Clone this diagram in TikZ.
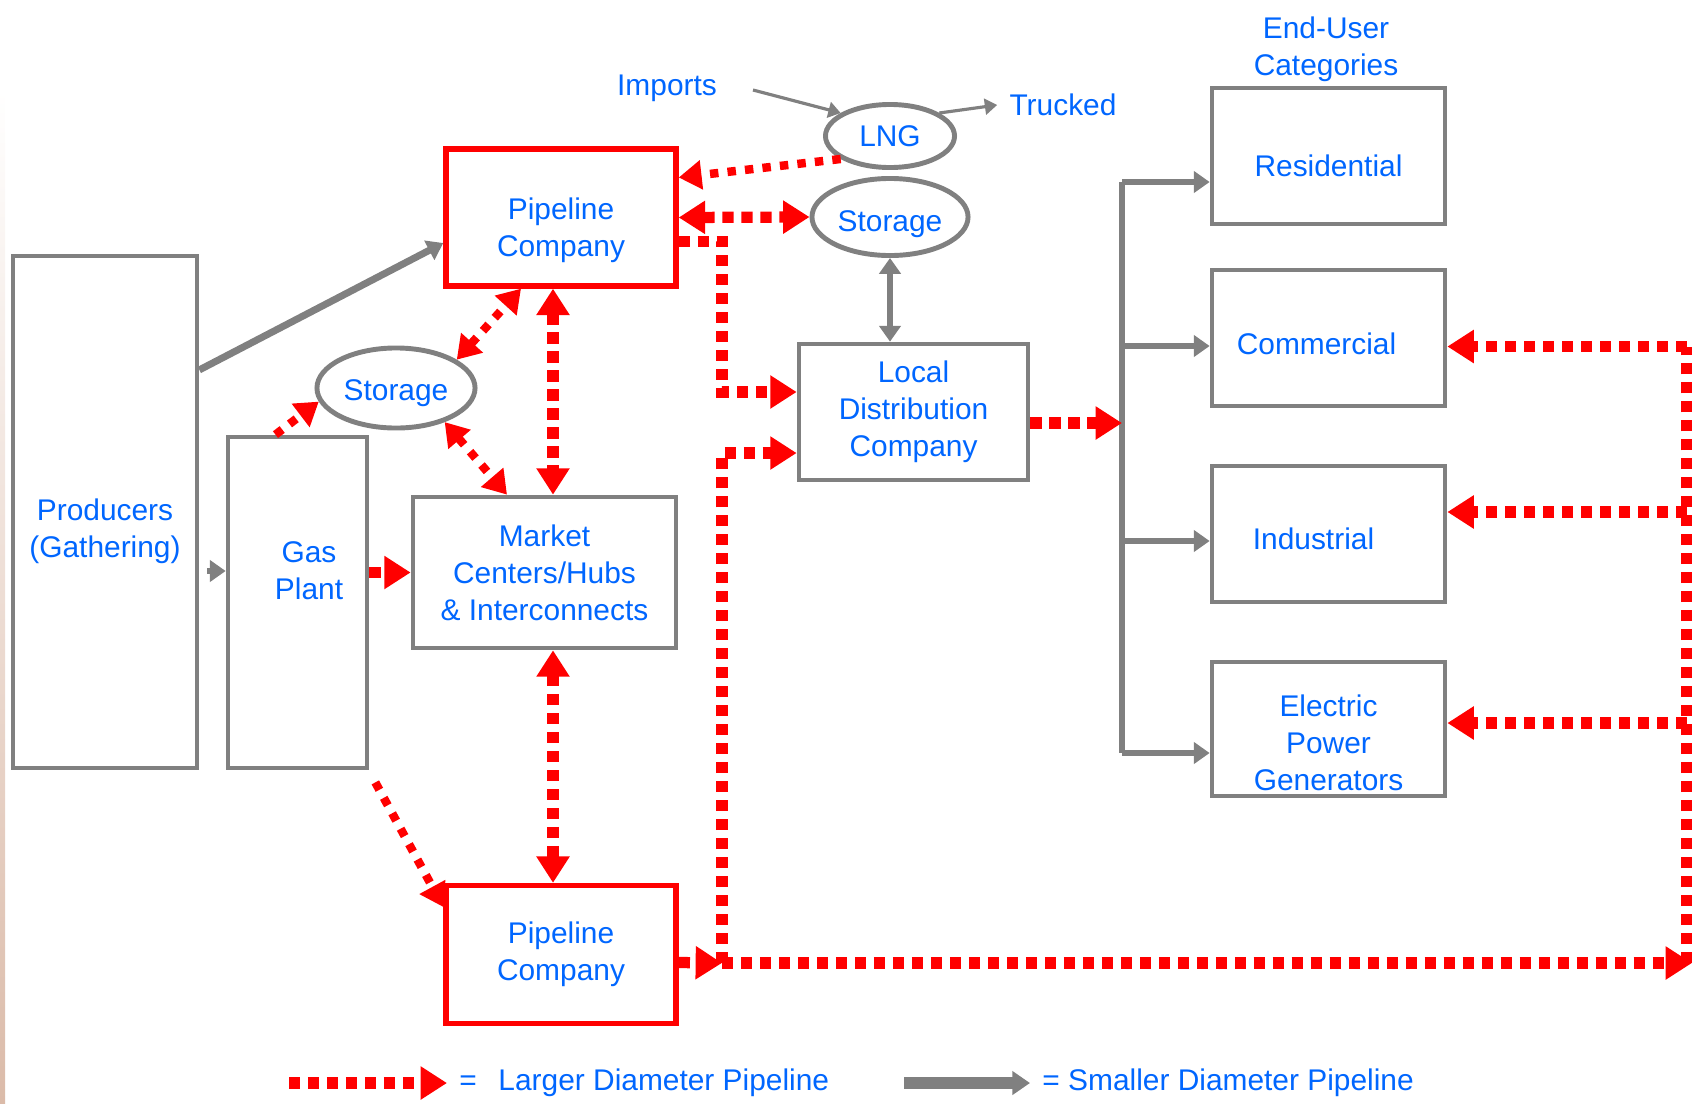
\documentclass[tikz,border=0pt]{standalone}
\usepackage{fontspec}
\setmainfont{Liberation Sans}
\usetikzlibrary{arrows.meta,shapes.geometric}
\definecolor{txtblue}{RGB}{0,102,255}
\definecolor{pipegray}{RGB}{128,128,128}
\definecolor{pipered}{RGB}{255,0,0}
\definecolor{edgetan}{RGB}{219,187,169}

\begin{document}
\begin{tikzpicture}[x=0.01cm,y=-0.01cm,
  every node/.style={text=txtblue,font=\fontsize{8.5}{10.5}\selectfont,align=center},
  box/.style={draw=pipegray,line width=1.3pt,inner sep=0pt},
  redbox/.style={box,draw=pipered,line width=1.5pt},
  tank/.style={ellipse,draw=pipegray,line width=1.4pt,inner sep=0pt},
  bigpipe/.style={pipered,line width=3.2pt,dash pattern=on 3.2pt off 2.2pt,>={Triangle[length=7.5pt,width=9pt]}},
  dotpipe/.style={pipered,line width=2.4pt,dash pattern=on 2.4pt off 2.6pt,>={Triangle[length=6.5pt,width=8pt]}},
  smallpipe/.style={pipegray,line width=1.6pt,>={Triangle[length=4.5pt,width=6pt]}},
  thinpipe/.style={pipegray,line width=0.9pt,>={Triangle[length=3.5pt,width=4.5pt]}}]
\useasboundingbox (0,0) rectangle (1692,1103);
\shade[top color=white,bottom color=edgetan] (0,90) rectangle (5,1103);

\node[box,minimum width=18.4mm,minimum height=51.2mm,
  label={[yshift=-1.9mm]center:{Producers\\(Gathering)}}] (prod) at (105,512) {};
\node[box,minimum width=13.9mm,minimum height=33.1mm] (gas) at (297.5,602.5) {};
\node (gastext) at (309,571) {Gas\\Plant};
\node[redbox,minimum width=23mm,minimum height=13.7mm,
  label={[yshift=-1.3mm]center:{Pipeline\\Company}}] (pipe1) at (561,217.5) {};
\node[box,minimum width=26.3mm,minimum height=15.1mm] (mkt) at (544.5,572.5) {Market\\Centers/Hubs\\\& Interconnects};
\node[redbox,minimum width=23mm,minimum height=13.8mm] (pipe2) at (561,954.5) {Pipeline\\Company};
\node[box,minimum width=22.9mm,minimum height=13.6mm] (ldc) at (913.5,412) {Local\\Distribution\\Company};
\node[tank,minimum width=15.8mm,minimum height=8mm,
  label={[yshift=-0.5mm]center:Storage}] (stor1) at (396,388) {};
\node[tank,minimum width=15.6mm,minimum height=7.7mm,
  label={[yshift=-0.7mm]center:Storage}] (stor2) at (890,217) {};
\node[tank,minimum width=12.9mm,minimum height=6.3mm] (lng) at (890,136) {LNG};
\node (imports) at (667,88) {Imports};
\node (trucked) at (1063,105) {Trucked};
\node (enduser) at (1326,49) {End-User\\Categories};
\node[box,minimum width=23.3mm,minimum height=13.6mm,
  label={[yshift=-1mm]center:Residential}] (res) at (1328.5,156) {};
\node[box,minimum width=23.3mm,minimum height=13.6mm,
  label={[xshift=-1.2mm,yshift=-0.6mm]center:Commercial}] (com) at (1328.5,338) {};
\node[box,minimum width=23.3mm,minimum height=13.6mm,
  label={[xshift=-1.5mm,yshift=-0.5mm]center:Industrial}] (ind) at (1328.5,534) {};
\node[box,minimum width=23.3mm,minimum height=13.4mm,
  label={[yshift=-1.4mm]center:{Electric\\Power\\Generators}}] (elec) at (1328.5,729) {};

\coordinate (impend) at (753,90);
\coordinate (b1) at (1122,182);
\coordinate (b2) at (1122,346);
\coordinate (b3) at (1122,541);
\coordinate (b4) at (1122,753);
\coordinate (riser) at (722,300);
\coordinate (riserbot) at (722,963);
\coordinate (farend) at (1692,963);
\coordinate (farcorner) at (1687,963);
\coordinate (lgred) at (289,1083);
\coordinate (lggray) at (904,1083);

% smaller lines
\draw[smallpipe,line width=2pt,->] ([yshift=14.2mm]prod.east) -- ([yshift=-2.55mm]pipe1.west);
\draw[smallpipe,->] ([xshift=0.8mm]prod.east |- gastext) -- (gas.west |- gastext);
\draw[smallpipe,<->] (stor2.south) -- (stor2.south |- ldc.north);
\draw[thinpipe,->] (impend) -- (lng.155);
\draw[thinpipe,->] (lng.25) -- (trucked.west);
\draw[smallpipe] (b1) -- (b4);
\foreach \b/\n in {b1/res,b2/com,b3/ind,b4/elec}
  \draw[smallpipe,->] (\b) -- (\b -| \n.west);

% larger lines
\draw[dotpipe,->] (lng.205) -- ([yshift=4mm]pipe1.east);
\draw[bigpipe,<->] (pipe1.east) -- (stor2.west);
\draw[bigpipe,->] ([yshift=-2.4mm]pipe1.east) -| (riser) |- ([yshift=2mm]ldc.west);
\draw[bigpipe,->] ([yshift=-0.8mm]pipe2.east) -- (riserbot);
\draw[bigpipe,->] (riserbot) |- ([yshift=-4.1mm]ldc.west);
\draw[bigpipe,->] (riserbot) -- (farend);
\draw[bigpipe] (farcorner) -- ([yshift=-0.85mm]com.east -| farcorner);
\foreach \n/\s in {com/-0.85mm,ind/2.2mm,elec/0.6mm}
  \draw[bigpipe,->] ([yshift=\s]\n.east -| farcorner) -- ([yshift=\s]\n.east);
\draw[bigpipe,->] ([yshift=-1.1mm]ldc.east) -- ([yshift=-1.1mm]ldc.east -| b1);
\draw[bigpipe,->] (gas.east |- mkt.west) -- (mkt.west);
\draw[dotpipe,->] ([xshift=-2.2mm]gas.north) -- (stor1.190);
\draw[dotpipe,<->] (stor1.25) -- ([xshift=-4mm]pipe1.south);
\draw[dotpipe,<->] (stor1.-35) -- ([xshift=-3.75mm]mkt.north);
\draw[bigpipe,<->] ([xshift=-0.8mm]pipe1.south) -- ([xshift=-0.8mm]pipe1.south |- mkt.north);
\draw[bigpipe,<->] ([xshift=0.85mm]mkt.south) -- ([xshift=0.85mm]mkt.south |- pipe2.north);
\draw[dotpipe,->] ([shift={(0.6mm,-1.2mm)}]gas.south east) -- ([yshift=4.75mm]pipe2.west);

% legend
\node[anchor=west] (lglarge) at (447,1083) {=\ \ \,Larger Diameter Pipeline};
\node[anchor=west] (lgsmall) at (1030,1083) {= Smaller Diameter Pipeline};
\draw[bigpipe,->] (lgred) -- (lglarge.west);
\draw[smallpipe,line width=3.2pt,>={Triangle[length=5pt,width=6.5pt]},->] (lggray) -- (lgsmall.west);
\end{tikzpicture}
\end{document}
